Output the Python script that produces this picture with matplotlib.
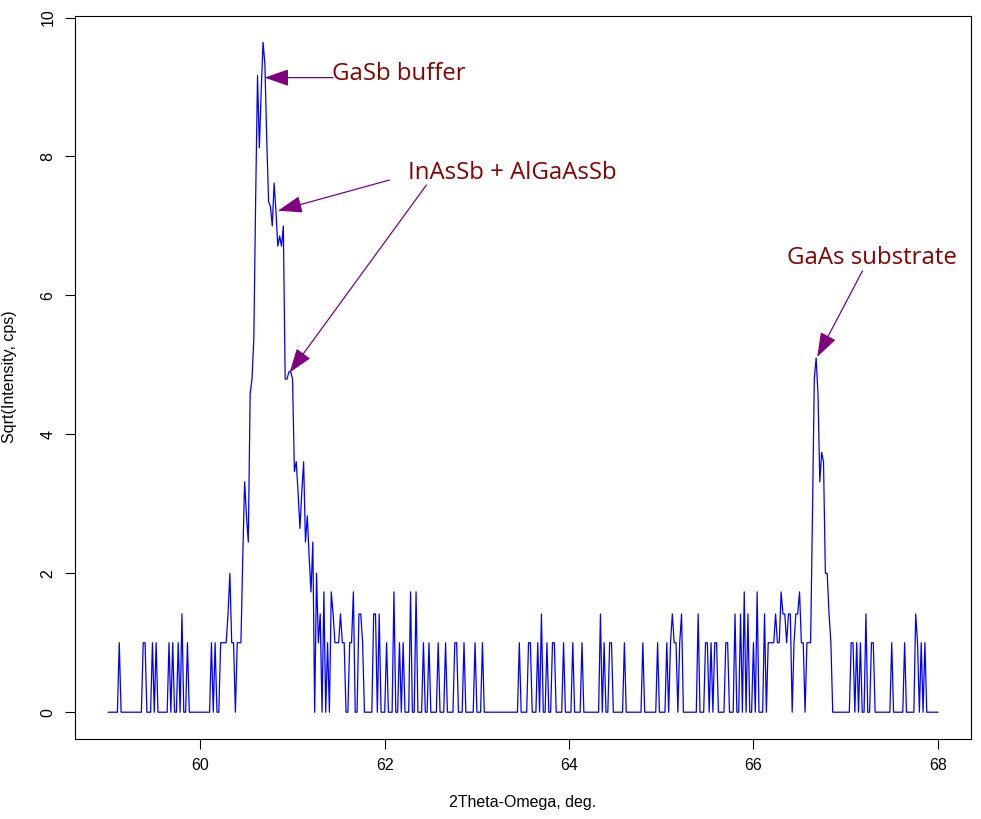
import numpy as np
import matplotlib

matplotlib.use("Agg")
import matplotlib.pyplot as plt

# XRD 2Theta-Omega scan, 59.00 .. 68.00 deg, 0.02 deg step
scan_start = 59.0
scan_stop = 68.0

# counts per step (cps), plotted as sqrt
counts = [
    0, 0, 0, 0, 0, 0, 1, 0, 0, 0,
    0, 0, 0, 0, 0, 0, 0, 0, 0, 1,
    1, 0, 0, 0, 1, 0, 1, 0, 0, 0,
    0, 0, 0, 1, 0, 1, 0, 0, 1, 0,
    2, 0, 0, 1, 0, 0, 0, 0, 0, 0,
    0, 0, 0, 0, 0, 0, 1, 0, 1, 0,
    0, 1, 1, 1, 1, 2, 4, 1, 1, 0,
    1, 1, 1, 5, 11, 8, 6, 21, 23, 29,
    55, 84, 66, 80, 93, 87, 68, 54, 53, 49,
    58, 52, 45, 47, 45, 49, 23, 23, 24, 24,
    23, 12, 13, 10, 7, 10, 13, 6, 8, 5,
    3, 6, 0, 4, 1, 2, 0, 3, 0, 1,
    0, 3, 2, 1, 1, 1, 2, 1, 1, 0,
    0, 1, 1, 3, 0, 0, 2, 2, 1, 0,
    0, 0, 0, 0, 2, 2, 0, 2, 0, 0,
    0, 1, 0, 0, 0, 3, 0, 0, 1, 0,
    1, 0, 0, 0, 3, 0, 0, 3, 0, 0,
    0, 1, 0, 0, 1, 0, 0, 0, 0, 1,
    0, 0, 0, 1, 0, 0, 0, 0, 1, 1,
    0, 0, 0, 1, 0, 0, 0, 0, 0, 1,
    0, 0, 0, 1, 0, 0, 0, 0, 0, 0,
    0, 0, 0, 0, 0, 0, 0, 0, 0, 0,
    0, 0, 0, 1, 0, 0, 0, 0, 1, 1,
    0, 0, 0, 1, 0, 2, 0, 0, 1, 0,
    0, 1, 1, 0, 0, 0, 0, 1, 0, 0,
    0, 0, 1, 0, 0, 0, 0, 1, 0, 0,
    0, 0, 0, 0, 0, 0, 0, 2, 0, 1,
    0, 0, 1, 1, 0, 0, 0, 0, 0, 0,
    1, 0, 0, 0, 0, 0, 0, 0, 0, 0,
    1, 0, 0, 0, 0, 0, 0, 0, 1, 0,
    0, 0, 0, 1, 0, 1, 2, 1, 1, 0,
    1, 2, 0, 0, 0, 0, 0, 0, 0, 0,
    2, 0, 0, 0, 1, 1, 0, 1, 0, 1,
    1, 0, 0, 0, 0, 1, 1, 0, 0, 0,
    2, 0, 0, 2, 0, 3, 0, 2, 0, 0,
    1, 0, 3, 0, 0, 0, 2, 0, 1, 1,
    1, 1, 2, 1, 1, 3, 2, 2, 1, 2,
    2, 0, 1, 2, 2, 3, 1, 1, 0, 1,
    1, 1, 8, 23, 26, 21, 11, 14, 13, 4,
    4, 2, 1, 0, 0, 0, 0, 0, 0, 0,
    0, 0, 0, 1, 1, 0, 1, 0, 1, 0,
    0, 2, 0, 0, 1, 1, 0, 0, 0, 0,
    0, 0, 0, 0, 0, 1, 0, 0, 0, 0,
    0, 0, 1, 0, 0, 0, 0, 0, 2, 1,
    0, 1, 0, 1, 0, 0, 0, 0, 0, 0,
    0,
]

# peak labels: text, text position (left, baseline), arrow tails and heads
labels = ["GaSb buffer", "InAsSb + AlGaAsSb", "GaAs substrate"]
label_xy = [(61.43, 9.10), (62.25, 7.676), (66.36, 6.455)]
arrow_from = [(61.438, 9.135), (62.051, 7.661), (62.452, 7.589), (67.183, 6.354)]
arrow_to = [(60.697, 9.135), (60.842, 7.219), (60.968, 4.889), (66.692, 5.115)]

two_theta = np.linspace(scan_start, scan_stop, len(counts))
sqrt_int = np.sqrt(np.array(counts, dtype=float))

plt.rcParams["font.family"] = ["Liberation Sans", "DejaVu Sans"]

fig = plt.figure(figsize=(9.81, 8.19), dpi=100)
ax = fig.add_axes([75 / 981, 80 / 819, 896 / 981, 723.5 / 819])

ax.plot(two_theta, sqrt_int, color="blue", lw=0.9)

# R style 4% axis padding
xr = two_theta.max() - two_theta.min()
yr = sqrt_int.max() - sqrt_int.min()
ax.set_xlim(two_theta.min() - 0.04 * xr, two_theta.max() + 0.04 * xr)
ax.set_ylim(sqrt_int.min() - 0.04 * yr, sqrt_int.max() + 0.04 * yr)

ax.set_xticks([60, 62, 64, 66, 68])
ax.set_yticks([0, 2, 4, 6, 8, 10])
ax.tick_params(direction="out", length=7, width=0.8, labelsize=11.5, pad=7)
for lbl in ax.get_yticklabels():
    lbl.set_rotation(90)
    lbl.set_va("center")
for s in ax.spines.values():
    s.set_linewidth(0.8)

fig.text(523 / 981, 1 - 803 / 819, "2Theta-Omega, deg.", ha="center", va="center", fontsize=11.5)
fig.text(10 / 981, 1 - 377 / 819, "Sqrt(Intensity, cps)", ha="center", va="center",
         rotation=90, fontsize=11.5)

for a, b in zip(arrow_from, arrow_to):
    ax.annotate("", xy=b, xytext=a,
                arrowprops=dict(arrowstyle="-|>,head_length=1.0,head_width=0.35",
                                mutation_scale=15, color="purple", lw=0.9,
                                shrinkA=0, shrinkB=0))

for t, (x, y) in zip(labels, label_xy):
    ax.text(x, y, t, color="darkred", fontsize=17.3, family="Open Sans",
            ha="left", va="baseline")

fig.savefig("out.png", dpi=100)
